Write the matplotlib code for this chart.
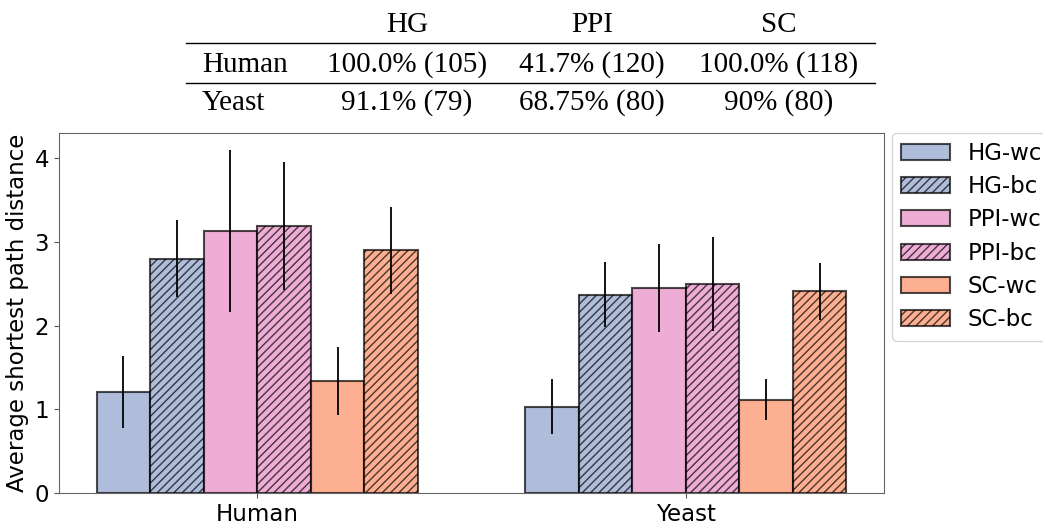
import numpy as np
import matplotlib
matplotlib.use("Agg")
import matplotlib.pyplot as plt
from matplotlib.lines import Line2D

# bar data: mean and std of shortest path distance per dataset
datasets = ["Human", "Yeast"]
series = ["HG-wc", "HG-bc", "PPI-wc", "PPI-bc", "SC-wc", "SC-bc"]
means = {
    "HG-wc": [1.21, 1.03],
    "HG-bc": [2.80, 2.37],
    "PPI-wc": [3.13, 2.45],
    "PPI-bc": [3.19, 2.50],
    "SC-wc": [1.34, 1.115],
    "SC-bc": [2.90, 2.41],
}
stds = {
    "HG-wc": [0.43, 0.33],
    "HG-bc": [0.46, 0.385],
    "PPI-wc": [0.97, 0.53],
    "PPI-bc": [0.77, 0.56],
    "SC-wc": [0.41, 0.245],
    "SC-bc": [0.52, 0.34],
}

# coverage table above the plot
table_cols = ["HG", "PPI", "SC"]
table_rows = ["Human", "Yeast"]
table_cells = [["100.0% (105)", "41.7% (120)", "100.0% (118)"],
               ["91.1% (79)", "68.75% (80)", "90% (80)"]]

colors = {"HG": "#8da0cb", "PPI": "#e78ac3", "SC": "#fc8d62"}

W, H = 1043, 524
fig = plt.figure(figsize=(W / 100, H / 100), dpi=100)
ax = fig.add_axes([59 / W, 1 - 493 / H, (884 - 59) / W, (493 - 132.7) / H])

x = np.arange(len(datasets))
width = 0.125
for i, name in enumerate(series):
    net = name.split("-")[0]
    offset = (i - 2.5) * width
    ax.bar(x + offset, means[name], width, yerr=stds[name],
           color=colors[net], edgecolor="black", linewidth=1.5, alpha=0.7,
           hatch="////" if name.endswith("bc") else None, label=name,
           error_kw=dict(ecolor="black", elinewidth=1.3, capsize=0))

ax.set_xticks(x)
ax.set_xticklabels(datasets)
ax.set_ylabel("Average shortest path distance", fontsize=16.5)
ax.tick_params(labelsize=16.5, colors="0.35", labelcolor="black")
for sp in ax.spines.values():
    sp.set_color("0.4")
ax.legend(loc="upper left", bbox_to_anchor=(1.01, 1.0), borderaxespad=0,
          fontsize=16.5, handlelength=2.1, labelspacing=0.45)

# table drawn in figure coordinates
serif = "Liberation Serif"
col_x = [407, 592, 779]
base_y = [32, 72, 110]
for cx, name in zip(col_x, table_cols):
    fig.text(cx / W, 1 - base_y[0] / H, name, ha="center", va="baseline",
             family=serif, fontsize=21)
for r, row in enumerate(table_rows):
    yy = 1 - base_y[r + 1] / H
    fig.text(202 / W, yy, row, ha="left", va="baseline", family=serif, fontsize=21)
    for cx, cell in zip(col_x, table_cells[r]):
        fig.text(cx / W, yy, cell, ha="center", va="baseline", family=serif, fontsize=21)
for ly in [43.3, 83.3]:
    fig.add_artist(Line2D([186 / W, 875 / W], [1 - ly / H, 1 - ly / H],
                          color="black", linewidth=1.0, transform=fig.transFigure))

fig.savefig("out.png", dpi=100)
